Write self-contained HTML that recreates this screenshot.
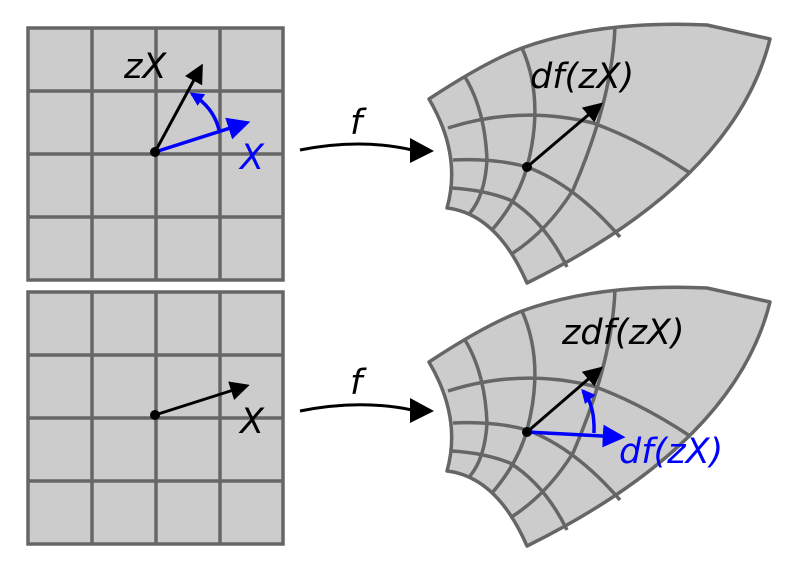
<!DOCTYPE html>
<html><head><style>html,body{margin:0;padding:0;background:#fff;}svg{display:block}</style></head><body>
<svg width="800" height="572" viewBox="0 0 800 572" xmlns="http://www.w3.org/2000/svg">
<defs>
<g id="grid">
<rect x="28" y="28" width="255" height="252" fill="#ccc" stroke="#666" stroke-width="3.5"/>
<path d="M92 28V280M156 28V280M220 28V280M28 91H283M28 154H283M28 217H283" stroke="#666" stroke-width="3.5" fill="none"/>
</g>
<g id="shape" stroke="#666" stroke-width="3.5" fill="none" stroke-linejoin="round">
<path d="M429 99 Q485 62 522 48 Q600 20 707 25 L770 39 Q735 180 527 283 Q497 214 447 208 Q462 155 429 99 Z" fill="#ccc"/>
<path d="M448 128 Q520 105 593 123 Q640 140 690 173"/>
<path d="M453 160 Q495 158 527 167 Q575 185 620 237"/>
<path d="M452 188 Q485 190 510 200 Q545 222 567 267"/>
<path d="M465 77 Q485 110 487 160 Q485 195 470 213"/>
<path d="M522 48 Q545 100 527 167 Q518 200 492 230"/>
<path d="M615 27 Q612 100 573 190 Q548 230 513 253"/>
</g>
<marker id="ab" viewBox="0 0 10 10" refX="8" refY="5" markerWidth="6.5" markerHeight="6.5" orient="auto"><path d="M0 0L10 5L0 10Z" fill="#000"/></marker>
<marker id="abl" viewBox="0 0 10 10" refX="8" refY="5" markerWidth="6.5" markerHeight="6.5" orient="auto"><path d="M0 0L10 5L0 10Z" fill="#00f"/></marker>
<marker id="abs" viewBox="0 0 10 10" refX="8" refY="5" markerWidth="4" markerHeight="4" orient="auto"><path d="M0 0L10 5L0 10Z" fill="#00f"/></marker>
</defs>
<use href="#grid"/>
<use href="#grid" transform="translate(0,264)"/>
<use href="#shape"/>
<use href="#shape" transform="translate(0,263)"/>
<g font-family="'DejaVu Sans','Liberation Sans',sans-serif" font-style="italic" font-size="35">
<line x1="155" y1="152" x2="201" y2="67" stroke="#000" stroke-width="3" marker-end="url(#ab)"/>
<line x1="155" y1="152" x2="246" y2="123" stroke="#00f" stroke-width="3.5" marker-end="url(#abl)"/>
<path d="M219 130 Q214 108 192 94" stroke="#00f" stroke-width="3.5" fill="none" marker-end="url(#abs)"/>
<circle cx="155" cy="152" r="5" fill="#000"/>
<text x="124" y="78" fill="#000">zX</text>
<text x="240" y="169" fill="#00f">X</text>
<path d="M300 150 Q360 138 412 150" stroke="#000" stroke-width="3" fill="none"/>
<path d="M410 138 L434 151 L410 163Z" fill="#000"/>
<text x="350" y="134">f</text>
<path d="M300 411 Q360 399 412 410" stroke="#000" stroke-width="3" fill="none"/>
<path d="M410 398 L434 411 L410 423Z" fill="#000"/>
<text x="350" y="394">f</text>
<line x1="527" y1="167" x2="600" y2="105" stroke="#000" stroke-width="3" marker-end="url(#ab)"/>
<circle cx="527" cy="167" r="5" fill="#000"/>
<text x="530" y="88">df(zX)</text>
<line x1="155" y1="415" x2="246" y2="386" stroke="#000" stroke-width="3" marker-end="url(#ab)"/>
<circle cx="155" cy="415" r="5" fill="#000"/>
<text x="240" y="433">X</text>
<line x1="527" y1="432" x2="600" y2="369" stroke="#000" stroke-width="3" marker-end="url(#ab)"/>
<line x1="527" y1="432" x2="621" y2="437" stroke="#00f" stroke-width="3.5" marker-end="url(#abl)"/>
<path d="M594 433 Q595 405 583 391" stroke="#00f" stroke-width="3.5" fill="none" marker-end="url(#abs)"/>
<circle cx="527" cy="432" r="5" fill="#000"/>
<text x="562" y="344">zdf(zX)</text>
<text x="619" y="463" fill="#00f">df(zX)</text>
</g>
</svg>
</body></html>
